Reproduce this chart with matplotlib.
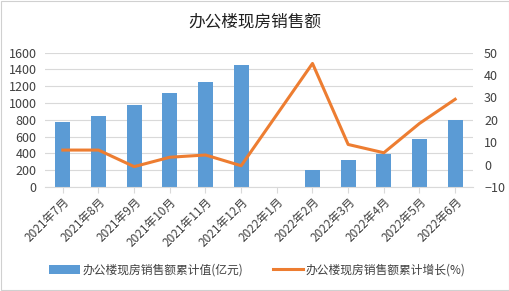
import matplotlib
matplotlib.use("Agg")
import matplotlib.pyplot as plt
import numpy as np

plt.rcParams['font.family'] = ['Noto Sans CJK SC', 'DejaVu Sans']

categories = ["2021年7月", "2021年8月", "2021年9月", "2021年10月", "2021年11月", "2021年12月",
              "2022年1月", "2022年2月", "2022年3月", "2022年4月", "2022年5月", "2022年6月"]
sales = [770, 841, 971, 1125, 1255, 1457, np.nan, 201, 320, 399, 568, 794]
growth = [6.5, 6.5, -0.9, 3.3, 4.3, -0.5, np.nan, 45.2, 9.0, 5.3, 18.4, 29.2]
bar_label = "办公楼现房销售额累计值(亿元)"
line_label = "办公楼现房销售额累计增长(%)"
title = "办公楼现房销售额"

W, H = 510, 291
fig = plt.figure(figsize=(W/100, H/100), dpi=100)
ax = fig.add_axes([45/W, 1-187/H, (473-45)/W, (187-52.7)/H])
x = np.arange(len(categories))
bar_color = "#5B9BD5"
line_color = "#ED7D31"
bars = ax.bar(x, sales, width=0.42, color=bar_color, label=bar_label, zorder=2)
ax.set_ylim(0, 1600)
ax.set_yticks(np.arange(0, 1601, 200))
ax.set_xlim(-0.5, len(categories)-0.5)
ax.set_xticks(x)
ax.set_xticklabels(categories, rotation=45, ha='right', rotation_mode='anchor', fontsize=8.5, color="#404040")
ax.tick_params(axis='y', labelsize=9, colors="#404040", length=0, pad=6)
ax.tick_params(axis='x', length=4, color="#d9d9d9", pad=2)
ax.grid(axis='y', color="#d9d9d9", linewidth=0.8, zorder=0)
for s in ['top', 'left', 'right']:
    ax.spines[s].set_visible(False)
ax.spines['bottom'].set_color("#d9d9d9")

ax2 = ax.twinx()
g = np.array(growth)
mask = ~np.isnan(g)
ln, = ax2.plot(x[mask], g[mask], color=line_color, linewidth=2.2, label=line_label, zorder=3)
ax2.set_ylim(-10, 50)
ax2.set_yticks(np.arange(-10, 51, 10))
ax2.tick_params(axis='y', labelsize=9, colors="#404040", length=0, pad=8)
for s in ax2.spines.values():
    s.set_visible(False)

fig.text(0.5, 1-22/H, title, ha='center', va='center', fontsize=12, color="#202020")

fig.legend([bars, ln], [bar_label, line_label], loc='center', bbox_to_anchor=(0.505, 1-270/H),
           ncol=2, frameon=False, fontsize=8.5, columnspacing=2.5, handlelength=2.6, handletextpad=0.2,
           labelcolor="#404040")

fig.patches.append(plt.Rectangle((0.002, 0.003), 0.996, 0.994, transform=fig.transFigure,
                                 fill=False, edgecolor="#d0d0d0", linewidth=0.8))

fig.savefig("out.png", dpi=100)
